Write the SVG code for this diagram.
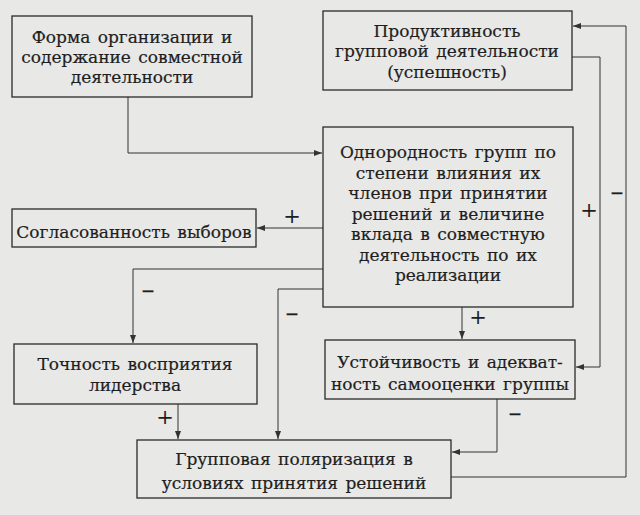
<svg xmlns="http://www.w3.org/2000/svg" width="640" height="515" viewBox="0 0 640 515">
<defs>
<style>
.box{fill:none;stroke:#2a2a2a;stroke-width:1.3}
.t{font-family:'DejaVu Serif',serif;font-size:17px;fill:#1e1e1e;text-anchor:middle;word-spacing:2px;stroke:#1e1e1e;stroke-width:0.2}
.c{fill:none;stroke:#333;stroke-width:1}
.s{font-family:'DejaVu Serif',serif;font-size:21px;fill:#1e1e1e;text-anchor:middle}
.m{font-family:'DejaVu Serif',serif;font-size:25px;fill:#1e1e1e;text-anchor:middle;stroke:#1e1e1e;stroke-width:0.4}
</style>
<marker id="ar" viewBox="0 0 8 6" refX="8" refY="3" markerWidth="8" markerHeight="6" markerUnits="userSpaceOnUse" orient="auto">
<path d="M0,0 L8,3 L0,6 Z" fill="#333"/>
</marker>
</defs>
<rect width="640" height="515" fill="#e8e8e6"/>
<g id="connectors">
<polyline class="c" points="128,97 128,153 322,153" marker-end="url(#ar)"/>
<polyline class="c" points="323,228 257,228" marker-end="url(#ar)"/>
<polyline class="c" points="323,269 133,269 133,343" marker-end="url(#ar)"/>
<polyline class="c" points="323,289 278,289 278,439" marker-end="url(#ar)"/>
<polyline class="c" points="178,404 178,439" marker-end="url(#ar)"/>
<polyline class="c" points="462,307 462,339" marker-end="url(#ar)"/>
<polyline class="c" points="497,399 497,452 452,452" marker-end="url(#ar)"/>
<polyline class="c" points="451,477 626,477 626,26 573,26" marker-end="url(#ar)"/>
<polyline class="c" points="572,57 600,57 600,367 576,367" marker-end="url(#ar)"/>
<text class="s" x="292" y="223">+</text>
<text class="m" x="148" y="298">–</text>
<text class="m" x="292" y="321">–</text>
<text class="s" x="165" y="424">+</text>
<text class="s" x="478" y="324">+</text>
<text class="m" x="515" y="421">–</text>
<text class="s" x="589" y="217">+</text>
<text class="m" x="617" y="200">–</text>
</g>
<g id="n1">
<rect class="box" x="12" y="16" width="240" height="81"/>
<text class="t" x="132" y="43">Форма организации и</text>
<text class="t" x="132" y="63" word-spacing="1">содержание совместной</text>
<text class="t" x="132" y="83">деятельности</text>
</g>
<g id="n2">
<rect class="box" x="323" y="11" width="249" height="79"/>
<text class="t" x="447" y="37">Продуктивность</text>
<text class="t" x="447" y="57">групповой деятельности</text>
<text class="t" x="447" y="78">(успешность)</text>
</g>
<g id="n3">
<rect class="box" x="323" y="127" width="250" height="180"/>
<text class="t" x="448" y="158">Однородность групп по</text>
<text class="t" x="448" y="178.5">степени влияния их</text>
<text class="t" x="448" y="199">членов при принятии</text>
<text class="t" x="448" y="219.5">решений и величине</text>
<text class="t" x="448" y="240">вклада в совместную</text>
<text class="t" x="448" y="260.5">деятельность по их</text>
<text class="t" x="448" y="281">реализации</text>
</g>
<g id="n4">
<rect class="box" x="12" y="209" width="244" height="38"/>
<text class="t" x="134" y="238">Согласованность выборов</text>
</g>
<g id="n5">
<rect class="box" x="14" y="344" width="243" height="60"/>
<text class="t" x="135" y="370">Точность восприятия</text>
<text class="t" x="135" y="391">лидерства</text>
</g>
<g id="n6">
<rect class="box" x="325" y="340" width="250" height="59"/>
<text class="t" x="450" y="368">Устойчивость и адекват-</text>
<text class="t" x="450" y="390">ность самооценки группы</text>
</g>
<g id="n7">
<rect class="box" x="137" y="440" width="314" height="58"/>
<text class="t" x="294" y="465">Групповая поляризация в</text>
<text class="t" x="294" y="489">условиях принятия решений</text>
</g>
</svg>
